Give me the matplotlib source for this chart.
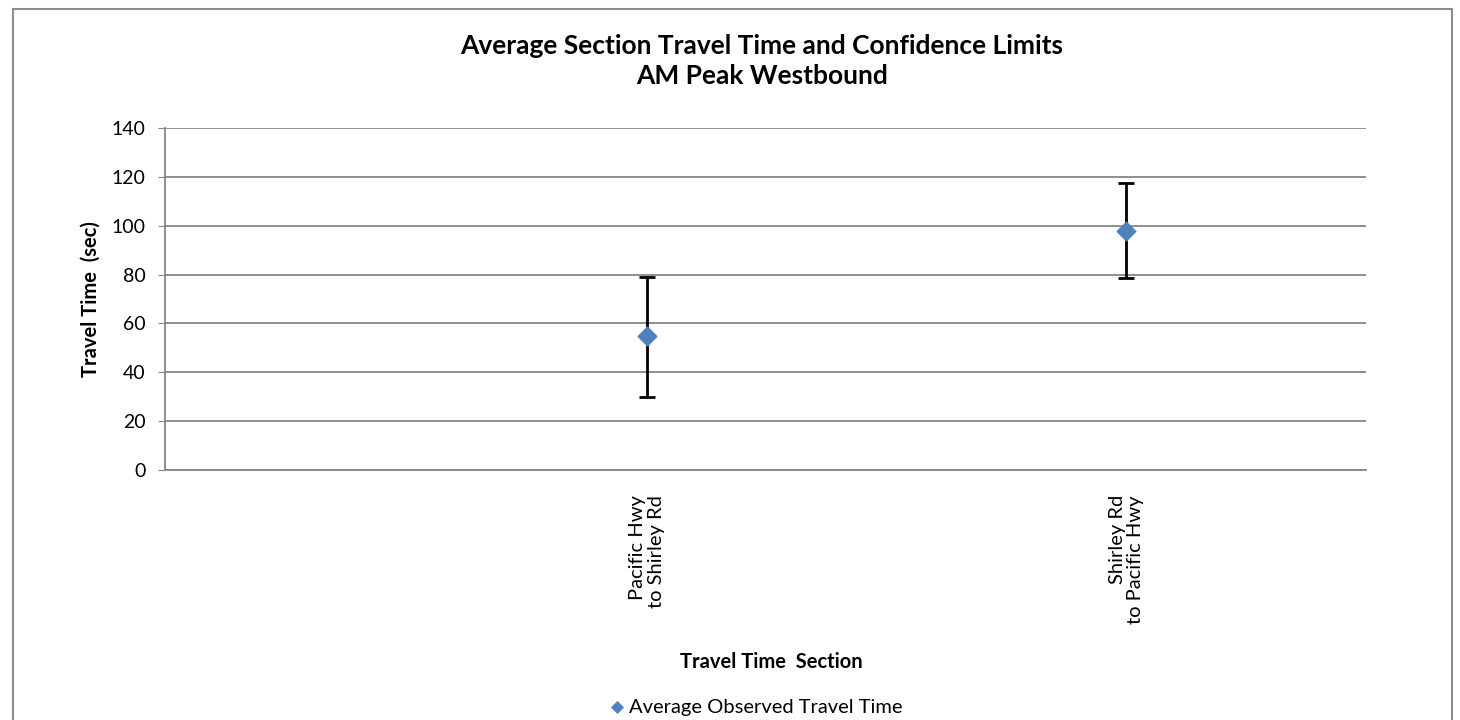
import matplotlib
matplotlib.use("Agg")
import matplotlib.pyplot as plt
from matplotlib.patches import Rectangle

plt.rcParams['font.family'] = ['Lato', 'DejaVu Sans']

# data
sections = ["Pacific Hwy\nto Shirley Rd", "Shirley Rd\nto Pacific Hwy"]
avg_time = [55, 98]
lower_limit = [30, 78.5]
upper_limit = [79, 117.5]
y_ticks = [0, 20, 40, 60, 80, 100, 120, 140]

fig = plt.figure(figsize=(14.6, 7.2), dpi=100)
ax = fig.add_axes([165/1460, 1-470/720, (1366-165)/1460, (470-128)/720])

# outer chart border
fig.patches.append(Rectangle((13/1460, -0.05), (1452-13)/1460, 1.05 - 9/720,
                             transform=fig.transFigure, fill=False,
                             edgecolor='#8c8c8c', linewidth=1.5))

xs = list(range(len(sections)))
err_lo = [a - l for a, l in zip(avg_time, lower_limit)]
err_hi = [u - a for a, u in zip(avg_time, upper_limit)]
ax.errorbar(xs, avg_time, yerr=[err_lo, err_hi], fmt='none', ecolor='black',
            elinewidth=2, capsize=6, capthick=2, zorder=3)
ax.scatter(xs, avg_time, marker='D', s=90, color='#4F81BD', zorder=4,
           label='Average Observed Travel Time')

ax.set_xlim(-1.006, 1.5)
ax.set_ylim(0, 140)
ax.set_yticks(y_ticks)
ax.tick_params(axis='y', labelsize=14, length=5, color='#868686', pad=9)
ax.set_xticks(xs)
ax.set_xticklabels(sections, rotation=90, fontsize=14.5, va='top', ha='center',
                   multialignment='right', linespacing=1.1)
ax.tick_params(axis='x', length=0, pad=18)
ax.yaxis.grid(True, color='#868686', linewidth=1.3)
ax.set_axisbelow(True)
for s in ['top', 'right']:
    ax.spines[s].set_visible(False)
ax.spines['left'].set_color('#868686')
ax.spines['bottom'].set_color('#868686')
ax.spines['left'].set_linewidth(1.3)
ax.spines['bottom'].set_linewidth(1.3)

ax.set_ylabel('Travel Time  (sec)', fontsize=14.5, fontweight='bold', labelpad=8)
fig.text(0.528, 1-662/720, 'Travel Time  Section', fontsize=14.5, fontweight='bold',
         ha='center', va='center')
fig.text(0.522, 1-61/720, 'Average Section Travel Time and Confidence Limits\nAM Peak Westbound',
         fontsize=19, fontweight='bold', ha='center', va='center', linespacing=1.35)

fig.legend(loc='center', bbox_to_anchor=(0.517, 1-707/720), frameon=False,
           fontsize=14.5, handletextpad=0.1, markerscale=0.6, handlelength=1)

fig.savefig('out.png', dpi=100)
